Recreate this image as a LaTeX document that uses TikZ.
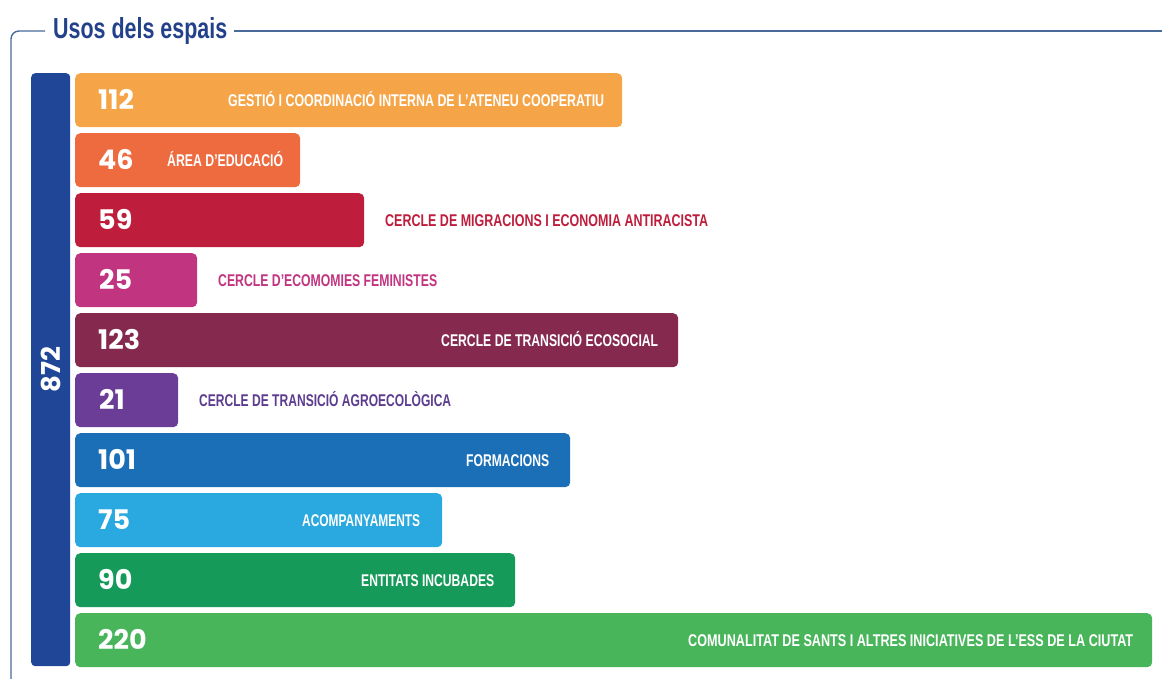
\documentclass[tikz,border=0pt]{standalone}
\usepackage{fontspec}
\usepackage{graphicx}
\setmainfont{Liberation Sans}
\newfontfamily\numfont{Poppins}
\definecolor{cA}{HTML}{F5A547}
\definecolor{cB}{HTML}{EE6A3F}
\definecolor{cC}{HTML}{BE1E3B}
\definecolor{cD}{HTML}{C1347F}
\definecolor{cE}{HTML}{85294F}
\definecolor{cF}{HTML}{6B3D97}
\definecolor{cG}{HTML}{1B6FB7}
\definecolor{cH}{HTML}{2AA9E0}
\definecolor{cI}{HTML}{159A5A}
\definecolor{cJ}{HTML}{48B55B}
\definecolor{cTot}{HTML}{1F4697}
\definecolor{cTitle}{HTML}{23418A}
\definecolor{cFrame}{HTML}{4A6A9A}
\definecolor{cPurpleTxt}{HTML}{5C3C8F}
\newcommand{\lblw}[2]{\resizebox{#1pt}{\height}{\bfseries #2}}
\tikzset{
  barbox/.style={rectangle, rounded corners=5pt, inner sep=0pt, minimum height=54pt, anchor=north west, draw=none},
  numtxt/.style={anchor=base west, inner sep=0pt, text=white, font=\numfont\bfseries\fontsize{27}{27}\selectfont},
  lbltxt/.style={anchor=base west, inner sep=0pt, font=\fontsize{17}{17}\selectfont},
  framel/.style={draw=cFrame, line width=1.4pt}
}
\begin{document}
\begin{tikzpicture}[x=1pt,y=-1pt]
\useasboundingbox (0,0) rectangle (1162,679);
% frame and title
\node[anchor=base west, inner sep=0pt, text=cTitle, font=\fontsize{29}{29}\selectfont] (title) at (53,38.5) {\lblw{174}{Usos dels espais}};
\coordinate (fa) at (45,31);
\coordinate (fb) at (11,679);
\coordinate (fc) at (1162,31);
\draw[framel, rounded corners=8pt] (fa) -| (fb);
\draw[framel] (title.east |- fa) ++(7,0) coordinate (fd) -- (fc);
% total bar
\node[rectangle, rounded corners=4pt, fill=cTot, minimum width=39pt, minimum height=593pt, inner sep=0pt, anchor=north west] (tot) at (31,73) {};
\node[rotate=90, inner sep=0pt, text=white, font=\numfont\bfseries\fontsize{26}{26}\selectfont] (totn) at (tot.center) {872};
% bars
\node[barbox, fill=cA, minimum width=547pt] (b1) at (75,73) {};
\node[barbox, fill=cB, minimum width=225pt] (b2) at (75,133) {};
\node[barbox, fill=cC, minimum width=289pt] (b3) at (75,193) {};
\node[barbox, fill=cD, minimum width=122pt] (b4) at (75,253) {};
\node[barbox, fill=cE, minimum width=603pt] (b5) at (75,313) {};
\node[barbox, fill=cF, minimum width=103pt] (b6) at (75,373) {};
\node[barbox, fill=cG, minimum width=495pt] (b7) at (75,433) {};
\node[barbox, fill=cH, minimum width=367pt] (b8) at (75,493) {};
\node[barbox, fill=cI, minimum width=440pt] (b9) at (75,553) {};
\node[barbox, fill=cJ, minimum width=1077pt] (b10) at (75,613) {};
% numbers
\node[numtxt] (n1) at (98,109.5) {112};
\node[numtxt] (n2) at (98,169.5) {46};
\node[numtxt] (n3) at (98,229.5) {59};
\node[numtxt] (n4) at (99,289.5) {25};
\node[numtxt] (n5) at (98,349.5) {123};
\node[numtxt] (n6) at (99,409.5) {21};
\node[numtxt] (n7) at (98,469.5) {101};
\node[numtxt] (n8) at (98,529.5) {75};
\node[numtxt] (n9) at (98,589.5) {90};
\node[numtxt] (n10) at (98,649.5) {220};
% labels
\node[lbltxt, text=white] (l1) at (228,106.5) {\lblw{376}{GESTIÓ I COORDINACIÓ INTERNA DE L’ATENEU COOPERATIU}};
\node[lbltxt, text=white] (l2) at (167,166.5) {\lblw{116}{ÁREA D’EDUCACIÓ}};
\node[lbltxt, text=cC] (l3) at (385,226.5) {\lblw{323}{CERCLE DE MIGRACIONS I ECONOMIA ANTIRACISTA}};
\node[lbltxt, text=cD] (l4) at (218,286.5) {\lblw{219}{CERCLE D’ECOMOMIES FEMINISTES}};
\node[lbltxt, text=white] (l5) at (441,346.5) {\lblw{217}{CERCLE DE TRANSICIÓ ECOSOCIAL}};
\node[lbltxt, text=cPurpleTxt] (l6) at (199,406.5) {\lblw{252}{CERCLE DE TRANSICIÓ AGROECOLÒGICA}};
\node[lbltxt, text=white] (l7) at (466,466.5) {\lblw{83}{FORMACIONS}};
\node[lbltxt, text=white] (l8) at (302,526.5) {\lblw{118}{ACOMPANYAMENTS}};
\node[lbltxt, text=white] (l9) at (361,586.5) {\lblw{133}{ENTITATS INCUBADES}};
\node[lbltxt, text=white] (l10) at (688,646.5) {\lblw{445}{COMUNALITAT DE SANTS I ALTRES INICIATIVES DE L’ESS DE LA CIUTAT}};
\end{tikzpicture}
\end{document}
